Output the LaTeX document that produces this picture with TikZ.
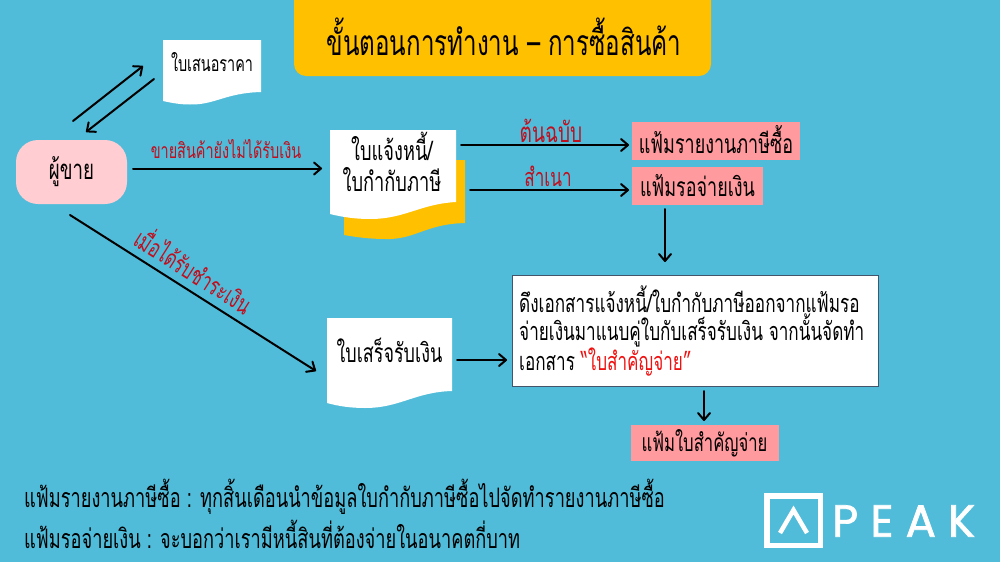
\documentclass[tikz,border=0pt]{standalone}
\usepackage{fontspec}
\usetikzlibrary{arrows.meta}
\setmainfont[Script=Thai,FakeStretch=0.68]{Loma}
\newfontfamily\logofont[LetterSpace=27,FakeBold=1.6]{Poppins}
\definecolor{bgblue}{HTML}{51BCD9}
\definecolor{amber}{HTML}{FFC000}
\definecolor{softpink}{HTML}{FFCDD2}
\definecolor{filepink}{HTML}{FF9A9E}
\definecolor{labelred}{HTML}{C00F1E}
\definecolor{notered}{HTML}{F01010}
\definecolor{noteedge}{HTML}{44546A}
\newcommand{\fs}[1]{\fontsize{#1}{#1}\selectfont}
\tikzset{
  x=1pt,y=-1pt,
  arr/.style={draw=black,line width=2pt,line cap=round,-{Straight Barb[length=7pt,width=12pt,line width=2pt,round]}},
  frame/.style={inner sep=0pt,outer sep=0pt,minimum width=#1},
  filebox/.style={fill=filepink,inner sep=0pt,outer sep=0pt,text=black,font=\fs{26.4}},
  redlabel/.style={text=labelred,inner sep=0pt,font=\fs{25.2}},
  doctext/.style={text=black,inner sep=0pt,font=\fs{26.4}},
  foot/.style={text=black,inner sep=0pt,anchor=west,font=\fs{26.8}}
}
\begin{document}
\begin{tikzpicture}
\useasboundingbox (0,0) rectangle (1000,562);
\fill[bgblue] (0,0) rectangle (1000,562);
% title
\fill[amber,rounded corners=12pt] (294,-20) rectangle (711,76);
\fill[amber] (294,0) rectangle (711,30);
\node[inner sep=0pt,font=\fs{35.5}] (title) at (504,37) {ขั้นตอนการทำงาน – การซื้อสินค้า};
% documents
\fill[white] (163,40) -- (261,40) -- (261,92) .. controls (225,93) and (215,105) .. (190,104.5) .. controls (180,104.5) and (172,103) .. (163,101) -- cycle;
\node[frame=98,minimum height=64.5pt] (quote) at (212,72) {};
\node[doctext,font=\fs{21.2}] at (212,62) {ใบเสนอราคา};
\fill[amber] (344,160) -- (465,160) -- (465,223) .. controls (425,224) and (415,240) .. (385,239) .. controls (370,239) and (355,237) .. (344,235) -- cycle;
\fill[white] (330,130) -- (456,130) -- (456,202) .. controls (420,204) and (405,219) .. (370,219) .. controls (355,219) and (342,217) .. (330,214) -- cycle;
\node[frame=126,minimum height=89pt] (invoice) at (393,174.5) {};
\node[doctext,align=center,font=\fs{26.8}] at (392,162) {ใบแจ้งหนี้/\\[4pt]ใบกำกับภาษี};
\fill[white] (327,318) -- (452,318) -- (452,391) .. controls (415,392) and (400,408) .. (365,408) .. controls (350,408) and (338,406) .. (327,403) -- cycle;
\node[frame=125,minimum height=90pt] (receipt) at (389.5,363) {};
\node[doctext] at (389.5,350) {ใบเสร็จรับเงิน};
% seller
\node[fill=softpink,rounded corners=22pt,minimum width=111pt,minimum height=64pt,inner sep=0pt,outer sep=0pt,font=\fs{27.5}] (seller) at (71.5,172) {ผู้ขาย};
% files
\node[filebox,minimum width=168pt,minimum height=38pt] (taxfile) at (716,141) {\raisebox{3pt}{แฟ้มรายงานภาษีซื้อ}};
\node[filebox,minimum width=131pt,minimum height=38pt] (payfile) at (697.5,186) {แฟ้มรอจ่ายเงิน};
\node[filebox,minimum width=148pt,minimum height=36pt,font=\fs{24.5}] (voucher) at (704.5,443) {แฟ้มใบสำคัญจ่าย};
% note
\node[fill=white,draw=noteedge,line width=1pt,minimum width=366pt,minimum height=111pt,outer sep=0pt,inner sep=0pt] (note) at (695,330.5) {};
\node[inner sep=0pt,anchor=west,align=left,font=\fontsize{25.2}{28}\selectfont] at (519,331) {ดึงเอกสารแจ้งหนี้/ใบกำกับภาษีออกจากแฟ้มรอ\\จ่ายเงินมาแนบคู่ใบกับเสร็จรับเงิน จากนั้นจัดทำ\\เอกสาร \textcolor{notered}{“ใบสำคัญจ่าย”}};
% connectors
\draw[arr] ([shift={(1.5,-19)}]seller.north) -- ([shift={(-20,-6)}]quote.west);
\draw[arr] ([shift={(-9,7)}]quote.west) -- ([shift={(14.5,-8)}]seller.north);
\draw[arr] ([shift={(6,-3.5)}]seller.east) -- ([shift={(-8,-6)}]invoice.west);
\draw[arr] ([shift={(5,-29.5)}]invoice.east) -- ([shift={(-3,4)}]taxfile.west);
\draw[arr] ([shift={(14,15.5)}]invoice.east) -- ([shift={(-3,4)}]payfile.west);
\draw[arr] ([shift={(-32.5,4)}]payfile.south) -- ([shift={(-30,-13)}]note.north);
\draw[arr] ([shift={(-1.5,11)}]seller.south) -- ([shift={(-11,8)}]receipt.west);
\draw[arr] ([shift={(5,-3)}]receipt.east) -- ([shift={(-5,29.5)}]note.west);
\draw[arr] ([shift={(9,5)}]note.south) -- ([shift={(-.5,-4)}]voucher.north);
% labels
\node[redlabel,font=\fs{21.2}] at (226,149) {ขายสินค้ายังไม่ได้รับเงิน};
\node[redlabel,font=\fs{28}] at (551,131) {ต้นฉบับ};
\node[redlabel] at (548,176) {สำเนา};
\node[redlabel,rotate=-32.4] at (195,269) {เมื่อได้รับชำระเงิน};
% footer
\node[foot] at (24,497) {แฟ้มรายงานภาษีซื้อ : ทุกสิ้นเดือนนำข้อมูลใบกำกับภาษีซื้อไปจัดทำรายงานภาษีซื้อ};
\node[foot] at (24,534) {แฟ้มรอจ่ายเงิน : จะบอกว่าเรามีหนี้สินที่ต้องจ่ายในอนาคตกี่บาท};
% logo
\node[draw=white,line width=5.5pt,minimum width=53.5pt,minimum height=49.5pt,inner sep=0pt] (logobox) at (793.5,520.5) {};
\draw[white,line width=4.5pt] (780,533) -- (793.5,510) -- (807,533);
\node[text=white,inner sep=0pt,anchor=west,font=\fs{45}\logofont] at (832,521) {PEAK};
\end{tikzpicture}
\end{document}
